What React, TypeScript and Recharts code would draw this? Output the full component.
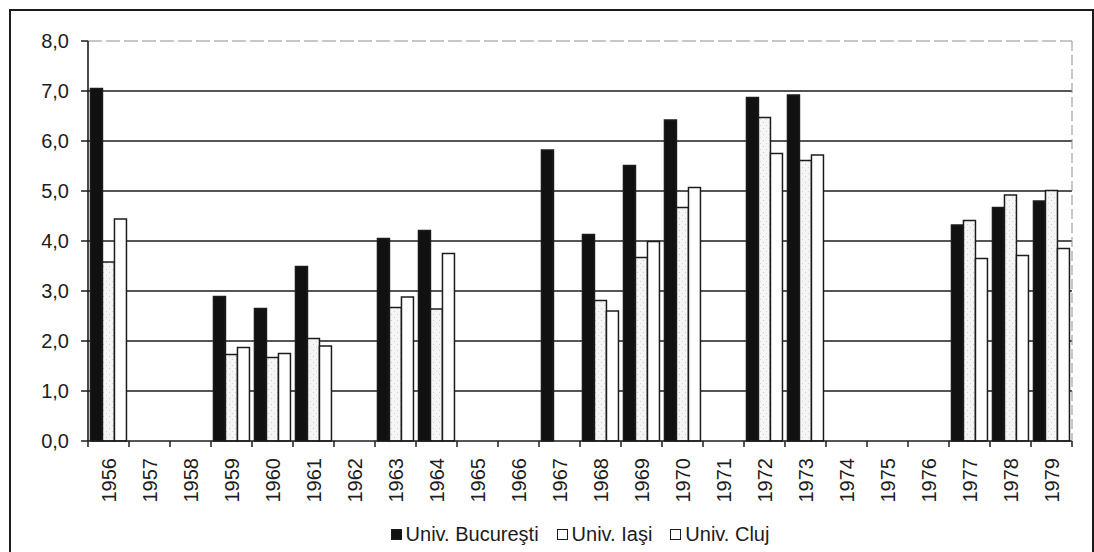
import React from "react";
import {
  BarChart,
  Bar,
  XAxis,
  YAxis,
  CartesianGrid,
  Legend,
  ReferenceLine,
} from "recharts";

const years = [
  "1956", "1957", "1958", "1959", "1960", "1961", "1962", "1963",
  "1964", "1965", "1966", "1967", "1968", "1969", "1970", "1971",
  "1972", "1973", "1974", "1975", "1976", "1977", "1978", "1979",
];

const bucuresti = [
  7.05, null, null, 2.89, 2.65, 3.49, null, 4.05,
  4.21, null, null, 5.82, 4.13, 5.51, 6.42, null,
  6.87, 6.92, null, null, null, 4.32, 4.67, 4.8,
];

const iasi = [
  3.58, null, null, 1.73, 1.67, 2.05, null, 2.67,
  2.64, null, null, null, 2.81, 3.67, 4.67, null,
  6.47, 5.61, null, null, null, 4.41, 4.92, 5.01,
];

const cluj = [
  4.44, null, null, 1.87, 1.75, 1.9, null, 2.88,
  3.75, null, null, null, 2.6, 3.99, 5.07, null,
  5.75, 5.72, null, null, null, 3.65, 3.71, 3.85,
];

const yTicks = [0, 1, 2, 3, 4, 5, 6, 7, 8];
const gridValues = [1, 2, 3, 4, 5, 6, 7];

const seriesNames = ["Univ. Bucureşti", "Univ. Iaşi", "Univ. Cluj"];

const W = 1094;
const H = 552;
const MARGIN = { top: 41, right: 21, bottom: 3, left: 0 };
const Y_AXIS_W = 88;
const PLOT_W = W - MARGIN.right - 1 - Y_AXIS_W;
const HALF_BAND = PLOT_W / years.length / 2;

const FONT = "'Liberation Sans', Arial, sans-serif";
const INK = "#1c1c1c";

const data = years.map((y, i) => ({
  year: y,
  buc: bucuresti[i],
  ias: iasi[i],
  clj: cluj[i],
}));

function YearTick(props: any) {
  const { x, y, payload, index } = props;
  const last = index === years.length - 1;
  return (
    <g>
      <line x1={x - HALF_BAND} x2={x - HALF_BAND} y1={y - 6} y2={y} stroke={INK} strokeWidth={1.5} />
      {last && (
        <line x1={x + HALF_BAND} x2={x + HALF_BAND} y1={y - 6} y2={y} stroke={INK} strokeWidth={1.5} />
      )}
      <text
        x={0}
        y={0}
        transform={`translate(${x},${y + 11}) rotate(-90)`}
        textAnchor="end"
        dominantBaseline="central"
        fill={INK}
        fontSize={20}
        fontFamily={FONT}
      >
        {payload.value}
      </text>
    </g>
  );
}

function LegendBox() {
  const swatches = [
    { fill: "#111", name: seriesNames[0] },
    { fill: "#fff", name: seriesNames[1] },
    { fill: "#fff", name: seriesNames[2] },
  ];
  return (
    <div
      style={{
        display: "flex",
        justifyContent: "center",
        alignItems: "center",
        fontFamily: FONT,
        fontSize: 20,
        color: INK,
        height: 30,
      }}
    >
      {swatches.map((s, i) => (
        <span
          key={s.name}
          style={{ display: "flex", alignItems: "center", marginRight: i < 2 ? 18 : 0 }}
        >
          <span
            style={{
              display: "inline-block",
              width: 9,
              height: 9,
              background: s.fill,
              border: `1.5px solid ${INK}`,
              marginRight: 4,
            }}
          />
          {s.name}
        </span>
      ))}
    </div>
  );
}

export default function App() {
  return (
    <div
      style={{
        position: "absolute",
        left: 0,
        top: 0,
        width: W,
        height: H,
        background: "#fff",
        overflow: "hidden",
      }}
    >
      <div
        style={{
          position: "absolute",
          left: 9,
          top: 9,
          width: 1081,
          height: 580,
          border: `2px solid ${INK}`,
        }}
      />
      <div style={{ position: "absolute", left: 0, top: 0 }}>
        <BarChart
          width={W}
          height={H}
          data={data}
          margin={MARGIN}
          barCategoryGap="6%"
          barGap={0}
        >
          <defs>
            <pattern id="speckle" width="6" height="6" patternUnits="userSpaceOnUse">
              <rect width="6" height="6" fill="#f5f5f5" />
              <rect x="1" y="2" width="1" height="1" fill="#cccccc" />
              <rect x="4" y="5" width="1" height="1" fill="#d6d6d6" />
            </pattern>
          </defs>
          <CartesianGrid
            vertical={false}
            horizontalValues={gridValues}
            stroke={INK}
            strokeWidth={1.6}
          />
          <ReferenceLine y={8} stroke="#8f8f8f" strokeDasharray="14 4" />
          <XAxis
            dataKey="year"
            interval={0}
            height={78}
            tickSize={6}
            tickMargin={0}
            tickLine={false}
            axisLine={{ stroke: INK, strokeWidth: 1.6 }}
            tick={<YearTick />}
          />
          <YAxis
            width={Y_AXIS_W}
            domain={[0, 8]}
            ticks={yTicks}
            interval={0}
            tickSize={7}
            tickMargin={12}
            tickFormatter={(v: number) => v.toFixed(1).replace(".", ",")}
            tick={{ fontSize: 20, fill: INK, fontFamily: FONT }}
            tickLine={{ stroke: INK, strokeWidth: 1.5 }}
            axisLine={{ stroke: INK, strokeWidth: 1.6 }}
          />
          <YAxis
            yAxisId="edge"
            orientation="right"
            width={1}
            domain={[0, 8]}
            tick={false}
            tickLine={false}
            axisLine={{ stroke: "#8f8f8f", strokeDasharray: "10 4" }}
          />
          <Legend
            verticalAlign="bottom"
            height={30}
            wrapperStyle={{ left: Y_AXIS_W, width: PLOT_W }}
            content={<LegendBox />}
          />
          <Bar dataKey="buc" name={seriesNames[0]} fill="#111" stroke={INK} strokeWidth={1.5} isAnimationActive={false} />
          <Bar dataKey="ias" name={seriesNames[1]} fill="url(#speckle)" stroke={INK} strokeWidth={1.5} isAnimationActive={false} />
          <Bar dataKey="clj" name={seriesNames[2]} fill="#fff" stroke={INK} strokeWidth={1.5} isAnimationActive={false} />
        </BarChart>
      </div>
    </div>
  );
}
